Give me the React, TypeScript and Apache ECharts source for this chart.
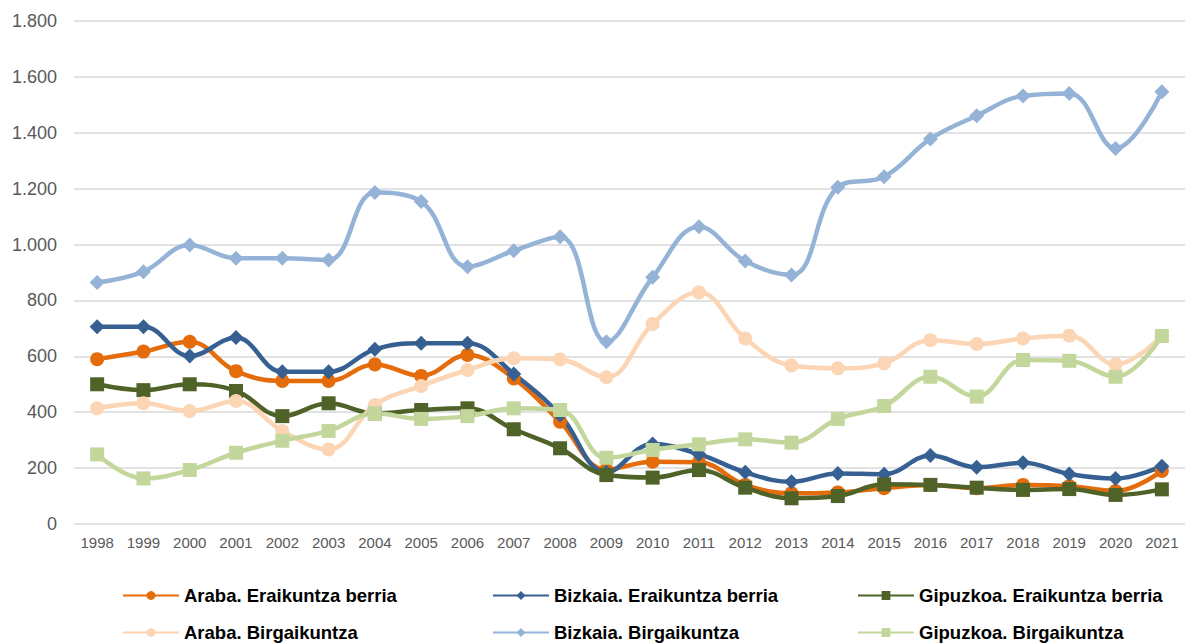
import React, { useEffect, useRef } from "react";
import * as echarts from "echarts";

const years = ["1998","1999","2000","2001","2002","2003","2004","2005","2006","2007","2008","2009","2010","2011","2012","2013","2014","2015","2016","2017","2018","2019","2020","2021"];

const arabaBerria = [590,617,652,547,512,512,571,530,605,521,366,195,223,221,140,110,113,128,140,128,140,136,118,190];
const bizkaiaBerria = [706,706,601,667,545,545,625,647,647,537,390,185,286,250,185,151,181,178,245,203,219,179,163,207];
const gipuzkoaBerria = [500,479,500,476,386,432,396,408,414,339,271,175,166,193,130,92,100,142,140,130,122,125,104,124];
const arabaBirg = [414,432,404,440,333,267,426,494,551,593,589,525,716,829,664,567,557,575,658,644,664,674,571,673];
const bizkaiaBirg = [864,903,998,951,951,945,1186,1154,921,978,1028,652,883,1064,941,891,1205,1243,1378,1461,1532,1541,1344,1547];
const gipuzkoaBirg = [249,163,193,255,298,333,396,376,386,414,408,237,265,285,303,291,376,422,527,456,587,584,527,673];

const seriesDefs = [
  { name: "Araba. Eraikuntza berria", data: arabaBerria, color: "#E46C0A", symbol: "circle", size: 14 },
  { name: "Bizkaia. Eraikuntza berria", data: bizkaiaBerria, color: "#376092", symbol: "diamond", size: 15 },
  { name: "Gipuzkoa. Eraikuntza berria", data: gipuzkoaBerria, color: "#4F6228", symbol: "rect", size: 14 },
  { name: "Araba. Birgaikuntza", data: arabaBirg, color: "#FCD5B5", symbol: "circle", size: 14 },
  { name: "Bizkaia. Birgaikuntza", data: bizkaiaBirg, color: "#95B3D7", symbol: "diamond", size: 15 },
  { name: "Gipuzkoa. Birgaikuntza", data: gipuzkoaBirg, color: "#C3D69B", symbol: "rect", size: 14 },
];

const legendLefts = [117, 487, 852, 117, 487, 852];
const legendTops = [581, 581, 581, 618, 618, 618];

export default function App() {
  const ref = useRef<HTMLDivElement>(null);
  useEffect(() => {
    document.body.style.margin = "0";
    const chart = echarts.init(ref.current!, null, { renderer: "svg" });
    chart.setOption({
      animation: false,
      backgroundColor: "#ffffff",
      grid: { left: 74, right: 0, top: 21, bottom: 120, containLabel: false },
      xAxis: {
        type: "category",
        data: years,
        boundaryGap: true,
        axisLine: { show: false },
        axisTick: { show: false },
        axisLabel: { color: "#595959", fontSize: 15, fontFamily: "Liberation Sans, Arial", margin: 11 },
      },
      yAxis: {
        type: "value",
        min: 0,
        max: 1800,
        interval: 200,
        axisLine: { show: false },
        axisTick: { show: false },
        splitLine: { lineStyle: { color: "#D9D9D9", width: 1.5 } },
        axisLabel: {
          color: "#595959",
          fontSize: 18,
          fontFamily: "Liberation Sans, Arial",
          margin: 17,
          formatter: (v: number) => v.toLocaleString("de-DE"),
        },
      },
      legend: seriesDefs.map((s, i) => ({
        data: [s.name],
        left: legendLefts[i],
        top: legendTops[i],
        itemWidth: 56,
        itemHeight: 11,
        itemGap: 4,
        textStyle: { color: "#000", fontSize: 18.5, fontWeight: "bold", fontFamily: "Liberation Sans, Arial" },
      })),
      series: seriesDefs.map((s) => ({
        name: s.name,
        type: "line",
        data: s.data,
        smooth: 0.4,
        symbol: s.symbol,
        symbolSize: s.size,
        showSymbol: true,
        lineStyle: { color: s.color, width: 4.5 },
        itemStyle: { color: s.color },
        emphasis: { disabled: true },
      })),
    });
    return () => chart.dispose();
  }, []);
  return <div ref={ref} style={{ width: 1185, height: 644 }} />;
}
